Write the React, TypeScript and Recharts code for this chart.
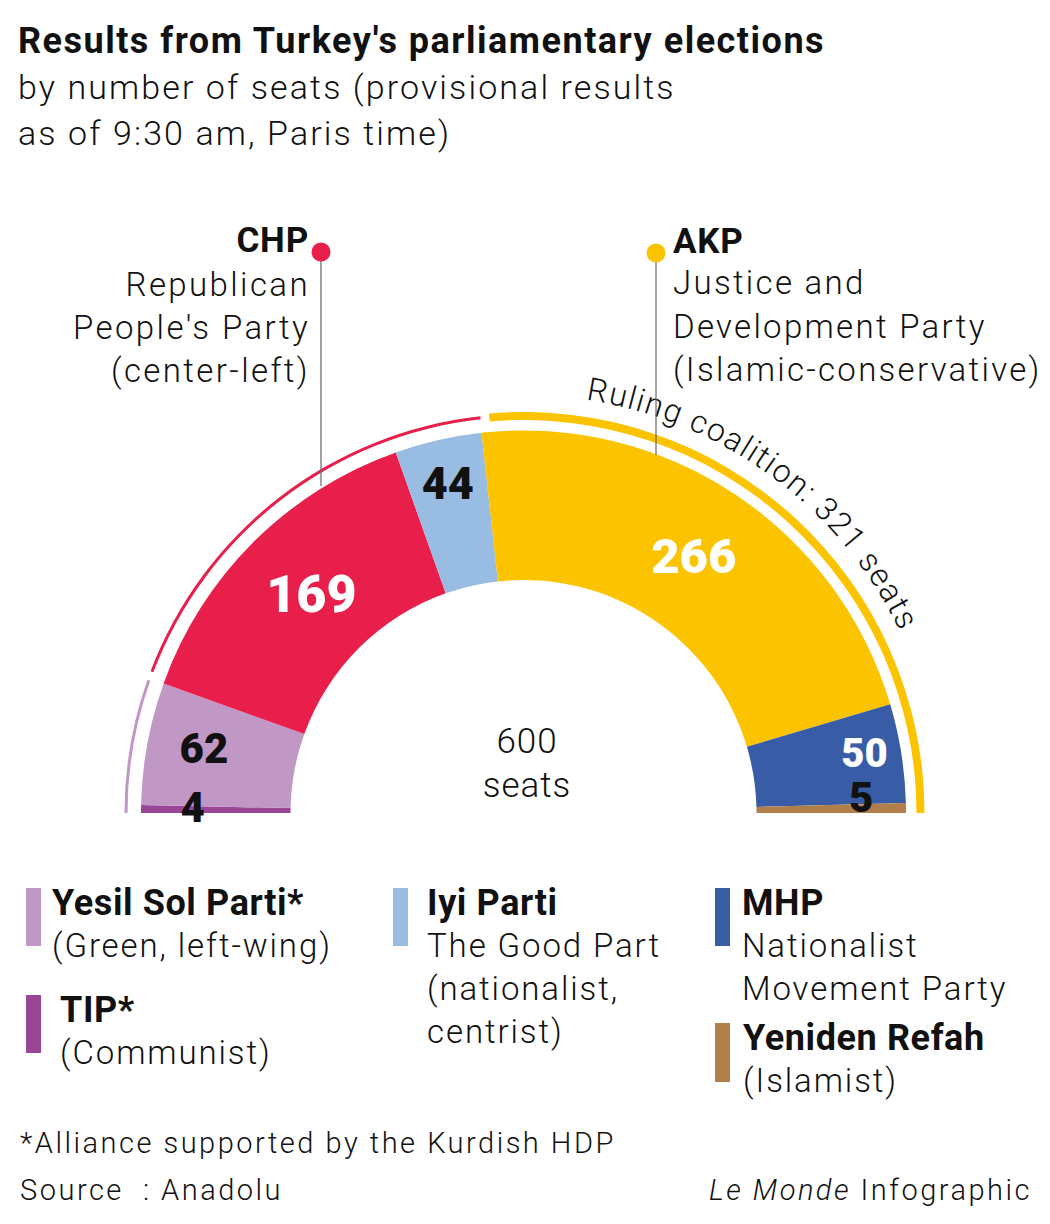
import React from 'react';
import { PieChart, Pie, Cell } from 'recharts';

// seats per party, left to right around the hemicycle
const partyNames = ['TIP', 'Yesil Sol Parti', 'CHP', 'Iyi Parti', 'AKP', 'MHP', 'Yeniden Refah'];
const partySeats = [4, 62, 169, 44, 266, 50, 5];
const partyColors = ['#9b4598', '#c197c6', '#e71f4a', '#99bce3', '#fcc400', '#395ca6', '#b07f4b'];

// alliances drawn as the thin outer arcs
const blocNames = ['Yesil Sol + TIP', 'CHP + Iyi', 'Ruling coalition'];
const blocSeats = [66, 213, 321];
const blocColors = ['#c197c6', '#e71f4a', '#fcc400'];

const totalSeats = partySeats.reduce((a, b) => a + b, 0);

const partyData = partyNames.map((name, i) => ({ name, seats: partySeats[i] }));
const blocData = blocNames.map((name, i) => ({ name, seats: blocSeats[i] }));

const CX = 523.5;
const CY = 813;

const SANS = "Roboto, 'Liberation Sans', sans-serif";
const INK = '#111';

// label tweaks (offset from the sector's middle point)
const LABEL_STYLE: Record<string, { dx: number; dy: number; size: number; color: string }> = {
  TIP: { dx: -23, dy: -3, size: 42, color: INK },
  'Yesil Sol Parti': { dx: -17, dy: -9, size: 42, color: INK },
  CHP: { dx: 5, dy: -1, size: 52, color: '#fff' },
  'Iyi Parti': { dx: -7, dy: -30, size: 45, color: INK },
  AKP: { dx: 0, dy: -1, size: 49, color: '#fff' },
  MHP: { dx: 37, dy: -12, size: 40, color: '#fff' },
  'Yeniden Refah': { dx: 30, dy: -12, size: 42, color: INK },
};

const renderSeatLabel = (props: any) => {
  const { cx, cy, midAngle, innerRadius, outerRadius, name, value } = props;
  const s = LABEL_STYLE[name];
  if (!s) return <g />;
  const r = (innerRadius + outerRadius) / 2;
  const rad = (midAngle * Math.PI) / 180;
  const x = cx + r * Math.cos(rad) + s.dx;
  const y = cy - r * Math.sin(rad) + s.dy + s.size * 0.355;
  return (
    <text x={x} y={y} textAnchor="middle" fill={s.color} fontFamily={SANS} fontWeight={900} fontSize={s.size}>
      {value}
    </text>
  );
};

const renderRulingLabel = (props: any) => {
  const { cx, cy, outerRadius, startAngle, endAngle, index, value } = props;
  if (index !== 2) return <g />;
  const r = outerRadius + 17;
  const a1 = ((startAngle - 13.5) * Math.PI) / 180;
  const a2 = ((endAngle + 5) * Math.PI) / 180;
  const x1 = cx + r * Math.cos(a1);
  const y1 = cy - r * Math.sin(a1);
  const x2 = cx + r * Math.cos(a2);
  const y2 = cy - r * Math.sin(a2);
  return (
    <g>
      <path id="ruling-arc" d={`M ${x1} ${y1} A ${r} ${r} 0 0 1 ${x2} ${y2}`} fill="none" />
      <text
        fontFamily={SANS}
        fontSize={32}
        fontWeight={300}
        letterSpacing={1.5}
        fill={INK}
        stroke="#fff"
        strokeWidth={6}
        paintOrder="stroke"
      >
        <textPath href="#ruling-arc">Ruling coalition: {value} seats</textPath>
      </text>
    </g>
  );
};

const legendItems = [
  { color: partyColors[1], x: 26, y: 888, h: 58, tx: 52, title: 'Yesil Sol Parti*', lines: ['(Green, left-wing)'] },
  { color: partyColors[0], x: 26, y: 995, h: 58, tx: 60, title: 'TIP*', lines: ['(Communist)'] },
  { color: partyColors[3], x: 393, y: 888, h: 58, tx: 427, title: 'Iyi Parti', lines: ['The Good Part', '(nationalist,', 'centrist)'] },
  { color: partyColors[5], x: 715, y: 888, h: 58, tx: 742, title: 'MHP', lines: ['Nationalist', 'Movement Party'] },
  { color: partyColors[6], x: 715, y: 1023, h: 59, tx: 743, title: 'Yeniden Refah', lines: ['(Islamist)'] },
];

export default function App() {
  return (
    <div style={{ position: 'absolute', left: 0, top: 0, width: 1050, height: 1224, background: '#fff' }}>
      <div style={{ position: 'absolute', left: 0, top: 0 }}>
        <PieChart width={1050} height={1224} margin={{ top: 0, right: 0, bottom: 0, left: 0 }}>
          <Pie
            data={partyData}
            dataKey="seats"
            nameKey="name"
            cx={CX}
            cy={CY}
            innerRadius={233}
            outerRadius={382.5}
            startAngle={180}
            endAngle={0}
            stroke="none"
            label={renderSeatLabel}
            labelLine={false}
            isAnimationActive={false}
          >
            {partyData.map((d, i) => (
              <Cell key={d.name} fill={partyColors[i]} />
            ))}
          </Pie>
          <Pie
            data={blocData}
            dataKey="seats"
            nameKey="name"
            cx={CX}
            cy={CY}
            innerRadius={396}
            outerRadius={399}
            startAngle={180}
            endAngle={0}
            paddingAngle={1.3}
            stroke="none"
            isAnimationActive={false}
          >
            {blocData.map((d, i) => (
              <Cell key={d.name} fill={blocColors[i]} />
            ))}
          </Pie>
          <Pie
            data={blocData}
            dataKey="seats"
            nameKey="name"
            cx={CX}
            cy={CY}
            innerRadius={393}
            outerRadius={401}
            startAngle={180}
            endAngle={0}
            paddingAngle={1.3}
            stroke="none"
            label={renderRulingLabel}
            labelLine={false}
            isAnimationActive={false}
          >
            {blocData.map((d, i) => (
              <Cell key={d.name} fill={i === 2 ? blocColors[i] : 'none'} />
            ))}
          </Pie>
        </PieChart>
      </div>

      <svg
        width={1050}
        height={1224}
        style={{ position: 'absolute', left: 0, top: 0, pointerEvents: 'none' }}
        fontFamily={SANS}
        fill={INK}
      >
        {/* title */}
        <text x={18} y={53} fontSize={36} fontWeight={700} letterSpacing={1.5}>
          Results from Turkey's parliamentary elections
        </text>
        <g fontSize={34} fontWeight={300} letterSpacing={2.1}>
          <text x={18} y={99}>by number of seats (provisional results</text>
          <text x={18} y={145}>as of 9:30 am, Paris time)</text>
        </g>

        {/* CHP callout */}
        <line x1={321} y1={252} x2={321} y2={486} stroke="#666" strokeWidth={1.2} />
        <circle cx={321} cy={252} r={9.5} fill={partyColors[2]} />
        <text x={309} y={252} textAnchor="end" fontWeight={700} fontSize={35} letterSpacing={0.8}>
          CHP
        </text>
        <g textAnchor="end" fontSize={33} fontWeight={300} letterSpacing={2.4}>
          <text x={310} y={296}>Republican</text>
          <text x={310} y={339}>People's Party</text>
          <text x={310} y={382}>(center-left)</text>
        </g>

        {/* AKP callout */}
        <line x1={656} y1={253} x2={656} y2={455} stroke="#666" strokeWidth={1.2} />
        <circle cx={656} cy={253} r={9.5} fill={partyColors[4]} />
        <text x={673} y={253} fontWeight={700} fontSize={35} letterSpacing={0.8}>
          AKP
        </text>
        <g fontSize={33} fontWeight={300} letterSpacing={2.3}>
          <text x={673} y={294}>Justice and</text>
          <text x={673} y={338}>Development Party</text>
          <text x={673} y={381}>(Islamic-conservative)</text>
        </g>

        {/* centre */}
        <g textAnchor="middle" fontSize={35} fontWeight={300} letterSpacing={1}>
          <text x={527} y={753}>{totalSeats}</text>
          <text x={527} y={797}>seats</text>
        </g>

        {/* legend */}
        {legendItems.map((it) => (
          <g key={it.title}>
            <rect x={it.x} y={it.y} width={15} height={it.h} fill={it.color} />
            <text x={it.tx} y={it.y + 27} fontSize={36} fontWeight={700} letterSpacing={0.6}>
              {it.title}
            </text>
            {it.lines.map((l, j) => (
              <text key={l} x={it.tx} y={it.y + 69 + j * 43} fontSize={33} fontWeight={300} letterSpacing={1.9}>
                {l}
              </text>
            ))}
          </g>
        ))}

        {/* footer */}
        <g fontSize={29} fontWeight={300} letterSpacing={2.5}>
          <text x={20} y={1153}>*Alliance supported by the Kurdish HDP</text>
          <text x={20} y={1200}>{'Source\u00a0\u00a0: Anadolu'}</text>
          <text x={1032} y={1200} textAnchor="end">
            <tspan fontStyle="italic">Le Monde</tspan> Infographic
          </text>
        </g>
      </svg>
    </div>
  );
}
